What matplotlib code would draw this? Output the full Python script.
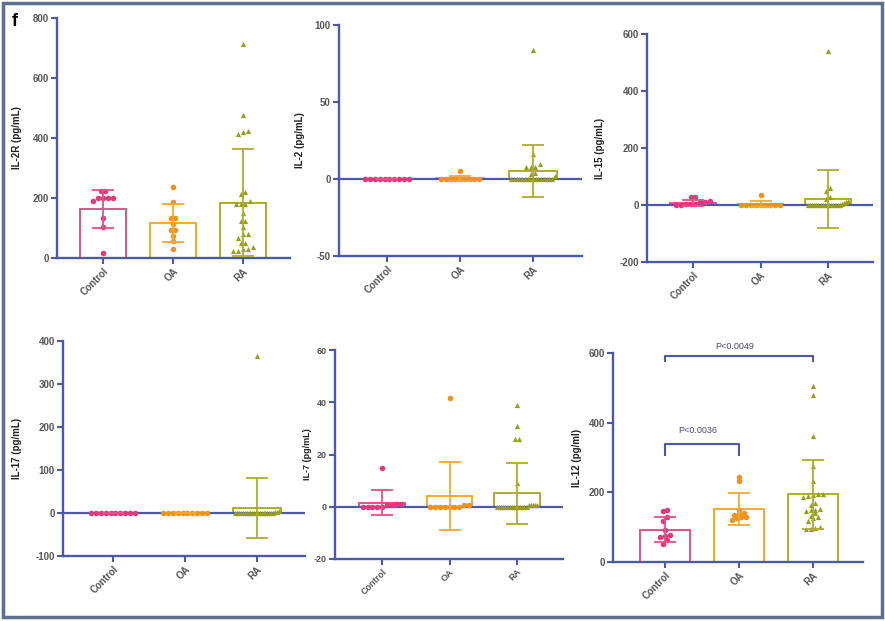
import numpy as np
import matplotlib.pyplot as plt
from matplotlib.patches import Rectangle

plt.rcParams['font.family'] = ['Liberation Sans', 'DejaVu Sans']
plt.rcParams['font.weight'] = 'bold'
plt.rcParams['axes.unicode_minus'] = False

W, H = 885, 621
groups = ['Control', 'OA', 'RA']

# IL-2R
il2r_control = [223, 223, 201, 201, 201, 201, 190, 134, 103, 18]
il2r_oa = [237, 188, 132, 132, 114, 92, 92, 73, 57, 29]
il2r_ra = [715, 477, 425, 420, 415, 221, 213, 190, 179, 179, 179, 151, 123,
           123, 103, 79, 79, 66, 51, 51, 37, 29, 29, 23, 23]
il2r_mean = [163, 116, 184]
il2r_sd = [63, 64, 178]

# IL-2
il2_control = [0] * 10
il2_oa = [5.5] + [0] * 9
il2_ra = [84, 16, 10, 8, 8, 8, 4, 3, 2] + [0] * 16
il2_mean = [0, 0.5, 5]
il2_sd = [0, 1.7, 17]

# IL-15
il15_control = [29, 29, 15, 12, 10, 5, 3, 2, 0, 0]
il15_oa = [34] + [0] * 9
il15_ra = [541, 58, 49, 28, 20, 15, 10, 8, 5] + [0] * 16
il15_mean = [8, 3, 22]
il15_sd = [10, 10, 102]

# IL-17
il17_control = [0] * 10
il17_oa = [0] * 10
il17_ra = [366, 5, 3, 2] + [0] * 21
il17_mean = [0, 0, 12]
il17_sd = [0, 0, 69]

# IL-7
il7_control = [15, 1, 1, 0.5, 0.5, 0, 0, 0, 0, 0]
il7_oa = [41.5, 0.5, 0.5] + [0] * 7
il7_ra = [39, 31, 26, 26, 9] + [0.5] * 5 + [0] * 15
il7_mean = [1.5, 4, 5.2]
il7_sd = [4.8, 13, 11.7]

# IL-12
il12_control = [149, 145, 130, 118, 92, 78, 75, 72, 62, 53]
il12_oa = [245, 232, 150, 142, 138, 135, 130, 128, 125, 122]
il12_ra = [505, 478, 362, 277, 232, 196, 194, 192, 190, 188, 170, 165, 152,
           150, 148, 145, 140, 132, 128, 125, 118, 100, 98, 96, 95]
il12_mean = [93, 152, 194]
il12_sd = [35, 46, 100]
il12_sig = [(0, 1, 340, 'P<0.0036'), (0, 2, 591, 'P<0.0049')]

axis_col = '#4b59a6'
bar_cols = ['#e5508a', '#f5aa2a', '#aeae2a']
dot_cols = ['#de3a7c', '#f0921c', '#969e1c']
markers = ['o', 'o', '^']

panels = [
    # label, data, mean, sd, ylim, yticks, pixel box, control px, spacing, label x
    ('IL-2R (pg/mL)', [il2r_control, il2r_oa, il2r_ra], il2r_mean, il2r_sd,
     (0, 800), [0, 200, 400, 600, 800], (57, 18, 290, 258), 103, 70, 22),
    ('IL-2 (pg/mL)', [il2_control, il2_oa, il2_ra], il2_mean, il2_sd,
     (-50, 100), [-50, 0, 50, 100], (339, 25, 582, 256), 387, 73, 305),
    ('IL-15 (pg/mL)', [il15_control, il15_oa, il15_ra], il15_mean, il15_sd,
     (-200, 600), [-200, 0, 200, 400, 600], (647, 34, 873, 262), 693, 67.5, 605),
    ('IL-17 (pg/mL)', [il17_control, il17_oa, il17_ra], il17_mean, il17_sd,
     (-100, 400), [-100, 0, 100, 200, 300, 400], (63, 341, 305, 556), 113, 72, 22),
    ('IL-7 (pg/mL)', [il7_control, il7_oa, il7_ra], il7_mean, il7_sd,
     (-20, 60), [-20, 0, 20, 40, 60], (335, 350, 563, 559), 382, 67.5, 312),
    ('IL-12 (pg/ml)', [il12_control, il12_oa, il12_ra], il12_mean, il12_sd,
     (0, 600), [0, 200, 400, 600], (613, 353, 863, 562), 665, 74, 582),
]


def swarm(vals, ppu, dx, maxw):
    # spread points of about the same value side by side
    vals = np.asarray(vals, float)
    order = np.argsort(vals)
    offs = np.zeros(len(vals))
    rows = []
    cur = [order[0]]
    for i in order[1:]:
        if (vals[i] - vals[cur[0]]) * ppu < 4.5:
            cur.append(i)
        else:
            rows.append(cur)
            cur = [i]
    rows.append(cur)
    for r in rows:
        n = len(r)
        w = min((n - 1) * dx, maxw)
        offs[r] = np.linspace(-w / 2, w / 2, n) if n > 1 else 0
    return offs


fig = plt.figure(figsize=(W / 100, H / 100), dpi=100)

for k, (lab, data, mean, sd, ylim, yt, box, c0, sp, labx) in enumerate(panels):
    x0, y0, x1, y1 = box
    ax = fig.add_axes([x0 / W, 1 - y1 / H, (x1 - x0) / W, (y1 - y0) / H])
    ax.set_xlim((x0 - c0) / sp, (x1 - c0) / sp)
    ax.set_ylim(*ylim)
    ppu = (y1 - y0) / (ylim[1] - ylim[0])
    fs = 6.5 if lab.startswith('IL-7') else 7

    for i in range(3):
        ax.bar(i, mean[i], width=0.67, facecolor='white', edgecolor=bar_cols[i],
               linewidth=1.4, zorder=2)
        offs = swarm(data[i], ppu, 4.8 / sp, 0.6)
        ax.scatter(i + offs, data[i], s=16 if markers[i] == 'o' else 14,
                   marker=markers[i], color=dot_cols[i], linewidths=0, zorder=4)
        ax.errorbar(i, mean[i], yerr=sd[i], fmt='none', ecolor=bar_cols[i],
                    elinewidth=1.3, capsize=8, capthick=1.3, zorder=5)

    if ylim[0] < 0:
        ax.axhline(0, color=axis_col, lw=1.6, zorder=3)

    for s in ['top', 'right']:
        ax.spines[s].set_visible(False)
    for s in ['left', 'bottom']:
        ax.spines[s].set_color(axis_col)
        ax.spines[s].set_linewidth(1.7)

    ax.set_yticks(yt)
    ax.set_xticks([0, 1, 2])
    ax.set_xticklabels(groups, rotation=45, ha='right', rotation_mode='anchor')
    ax.tick_params(direction='out', length=4, width=1.5, color=axis_col,
                   labelcolor='#555555', labelsize=fs, pad=2)
    ax.set_ylabel(lab, fontsize=fs, fontweight='bold', color='#222222')
    ax.yaxis.set_label_coords((labx - x0) / (x1 - x0), 0.5)

    if lab.startswith('IL-12'):
        for a, b, yv, txt in il12_sig:
            drop = 34 if b - a == 1 else 14
            ax.plot([a, a, b, b], [yv - drop, yv, yv, yv - drop], color=axis_col,
                    lw=1.5, clip_on=False, zorder=6)
            ty = yv + (37 if b - a == 1 else 29)
            ax.text((a + b) / 2 - 0.06, ty, txt, fontsize=6.5, fontweight='normal',
                    color='#4a4a6a', ha='center', va='center', clip_on=False)

# panel letter and outer frame
fig.text(15 / W, 1 - 21 / H, 'f', fontsize=13, fontweight='bold', ha='center',
         va='center')
fig.patches.append(Rectangle((3 / W, 4 / H), 879 / W, 614 / H,
                             transform=fig.transFigure, fill=False,
                             edgecolor='#5d7090', lw=2.5))

plt.savefig('out.png', dpi=100)
